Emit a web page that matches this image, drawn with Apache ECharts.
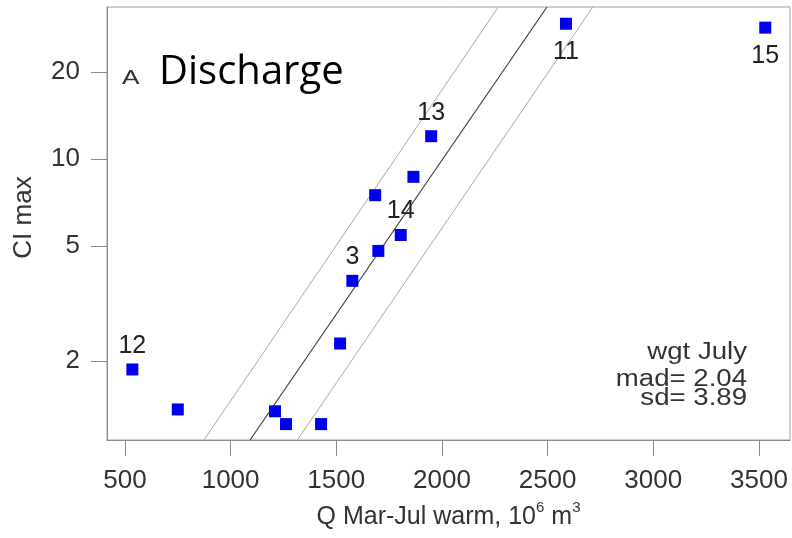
<!DOCTYPE html>
<html>
<head>
<meta charset="utf-8">
<script src="https://cdn.jsdelivr.net/npm/echarts@6/dist/echarts.min.js"></script>
<style>
  html, body {margin:0;padding:0;background:#fff;}
  #chart {width:792px;height:538px;}
</style>
</head>
<body>
<div id="chart"></div>
<script>
// Q Mar-Jul warm (10^6 m3) vs CI max, one point per year
var qWarm = [535, 750, 1210, 1262, 1428, 1518, 1576, 1699, 1805, 1684, 1865, 1949, 2587, 3530];
var ciMax = [1.87, 1.36, 1.34, 1.21, 1.21, 2.30, 3.79, 4.81, 5.46, 7.50, 8.68, 12.0, 29.4, 28.5];
var yearLabel = ['12', '', '', '', '', '', '3', '', '14', '', '', '13', '11', '15'];
var labelBelow = ['11', '15'];

// fit line and band, end points read at the plot edges
var fitX = [1092, 2497];
var lowX = [874, 2267];
var highX = [1316, 2714];
var lineY = [1.066, 33.6];

var xTicks = [500, 1000, 1500, 2000, 2500, 3000, 3500];
var yTicks = [2, 5, 10, 20];
var xRange = [415, 3647];
var yRange = [1.066, 33.6];

var statLines = ['wgt July', 'mad= 2.04', 'sd= 3.89'];

var font = 'Liberation Sans, Arial, sans-serif';
var axisGrey = '#8c8c8c';

function toLine(xs){
  return xs.map(function(x, i){ return [x, lineY[i]]; });
}

var points = qWarm.map(function(x, i){
  var lab = yearLabel[i];
  var below = labelBelow.indexOf(lab) >= 0;
  return {
    value: [x, ciMax[i]],
    label: {show: lab !== '', formatter: lab, position: below ? 'bottom' : 'top', distance: below ? 10 : 5}
  };
});

var myChart = echarts.init(document.getElementById('chart'));
var option = {
  animation: false,
  backgroundColor: '#fff',
  grid: {left: 107, top: 7, right: 2, bottom: 98, show: true, borderColor: '#a0a0a0', borderWidth: 1},
  xAxis: {
    type: 'value',
    min: xRange[0], max: xRange[1],
    name: '{n|Q Mar-Jul warm, 10}{s|6}{n| m}{s|3}',
    nameLocation: 'middle',
    nameGap: 60,
    nameTextStyle: {
      rich: {
        n: {fontFamily: font, fontSize: 25, color: '#333', verticalAlign: 'bottom', lineHeight: 30},
        s: {fontFamily: font, fontSize: 15, color: '#333', verticalAlign: 'top', lineHeight: 30}
      }
    },
    axisLine: {show: true, onZero: false, lineStyle: {color: axisGrey}},
    axisTick: {show: true, customValues: xTicks, length: 16, lineStyle: {color: axisGrey}},
    axisLabel: {customValues: xTicks, margin: 28, fontFamily: font, fontSize: 26, color: '#333',
      formatter: function(v){ return String(v); }},
    splitLine: {show: false}
  },
  yAxis: {
    type: 'log',
    logBase: 10,
    min: yRange[0], max: yRange[1],
    name: 'CI max',
    nameLocation: 'middle',
    nameGap: 70,
    nameRotate: 90,
    nameTextStyle: {fontFamily: font, fontSize: 26, color: '#333', padding: [0, 0, 0, 12]},
    axisLine: {show: true, lineStyle: {color: axisGrey}},
    axisTick: {show: true, customValues: yTicks, length: 16, lineStyle: {color: axisGrey}},
    axisLabel: {customValues: yTicks, margin: 27, fontFamily: font, fontSize: 26, color: '#333'},
    splitLine: {show: false},
    minorTick: {show: false}
  },
  graphic: [
    {type: 'text', x: 122, y: 78, scaleX: 1.25, style: {text: 'A', font: '21px ' + font, fill: '#333', verticalAlign: 'middle'}},
    {type: 'text', x: 159, y: 73, style: {text: 'Discharge', font: '40px "Open Sans", sans-serif', fill: '#000', verticalAlign: 'middle'}},
    {type: 'text', x: 747, y: 353, scaleX: 1.2, style: {text: statLines[0], font: '23px ' + font, fill: '#333', align: 'right', verticalAlign: 'middle'}},
    {type: 'text', x: 747, y: 380, scaleX: 1.2, style: {text: statLines[1], font: '23px ' + font, fill: '#333', align: 'right', verticalAlign: 'middle'}},
    {type: 'text', x: 747, y: 399, scaleX: 1.2, style: {text: statLines[2], font: '23px ' + font, fill: '#333', align: 'right', verticalAlign: 'middle'}}
  ],
  series: [
    {type: 'line', data: toLine(lowX), symbol: 'none', lineStyle: {color: '#a8a8a8', width: 1}, clip: true, z: 1},
    {type: 'line', data: toLine(fitX), symbol: 'none', lineStyle: {color: '#404040', width: 1.2}, clip: true, z: 1},
    {type: 'line', data: toLine(highX), symbol: 'none', lineStyle: {color: '#a8a8a8', width: 1}, clip: true, z: 1},
    {
      type: 'scatter',
      data: points,
      symbol: 'rect',
      symbolSize: 12,
      itemStyle: {color: '#0000ee', opacity: 1},
      label: {fontFamily: font, fontSize: 25, color: '#222'},
      z: 3
    }
  ]
};
myChart.setOption(option);
</script>
</body>
</html>
